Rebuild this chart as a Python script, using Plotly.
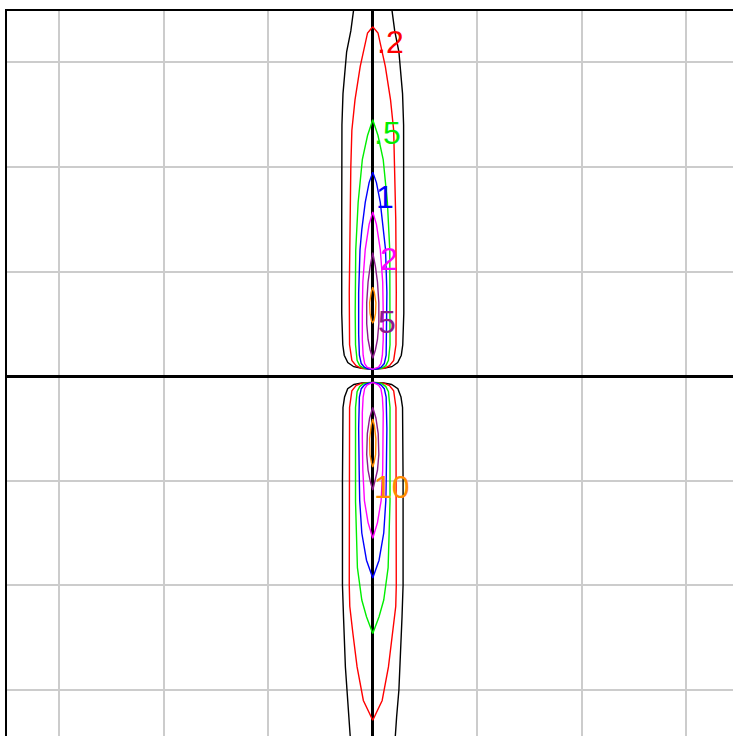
import plotly.graph_objects as go

# contour levels, colours and label text
levels = [0.1, 0.2, 0.5, 1, 2, 5, 10]
colors = ["#000000", "#ff0000", "#00ee00", "#0000ff", "#ff00ff", "#8b1a8b", "#ff8c00"]
label_text = [".2", ".5", "1", "2", "5", "10"]
label_color = ["#ff0000", "#00ee00", "#0000ff", "#ff00ff", "#8b1a8b", "#ff8c00"]
label_x = [0.17, 0.14, 0.115, 0.155, 0.14, 0.18]
label_y = [3.19, 2.32, 1.71, 1.12, 0.52, -1.06]

# contour profiles: (y, half-width) pairs, upper and lower lobes
black_upper = [(3.6, 0.17), (3.47, 0.19), (3.3, 0.21), (3.1, 0.25), (2.9, 0.27), (2.7, 0.285),
               (2.4, 0.295), (1.5, 0.297), (0.6, 0.297), (0.3, 0.287), (0.2, 0.273),
               (0.13, 0.239), (0.09, 0.182), (0.075, 0.105), (0.07, 0.0)]
black_lower = [(-0.06, 0.0), (-0.065, 0.105), (-0.08, 0.18), (-0.12, 0.24), (-0.2, 0.27),
               (-0.3, 0.285), (-1.0, 0.29), (-2.0, 0.29), (-2.3, 0.28), (-2.78, 0.262),
               (-3.0, 0.25), (-3.26, 0.228), (-3.45, 0.215), (-3.6, 0.205)]
red_upper = [(3.34, 0.0), (3.28, 0.05), (2.96, 0.12), (2.64, 0.17), (2.35, 0.2), (2.0, 0.21),
             (1.5, 0.22), (0.8, 0.225), (0.3, 0.222), (0.15, 0.2), (0.1, 0.16),
             (0.075, 0.11), (0.065, 0.0)]
red_lower = [(-0.06, 0.0), (-0.07, 0.11), (-0.09, 0.16), (-0.14, 0.2), (-0.3, 0.222),
             (-1.0, 0.225), (-2.0, 0.225), (-2.2, 0.22), (-2.46, 0.19), (-2.78, 0.15),
             (-3.1, 0.09), (-3.29, 0.0)]
green_upper = [(2.45, 0.0), (2.3, 0.05), (2.07, 0.1), (1.66, 0.14), (1.2, 0.163), (0.6, 0.168),
               (0.3, 0.165), (0.15, 0.15), (0.1, 0.125), (0.075, 0.085), (0.065, 0.0)]
green_lower = [(-0.06, 0.0), (-0.07, 0.085), (-0.1, 0.125), (-0.15, 0.15), (-0.3, 0.165),
               (-1.2, 0.165), (-1.83, 0.147), (-2.14, 0.105), (-2.3, 0.06), (-2.46, 0.0)]
blue_upper = [(1.95, 0.0), (1.85, 0.035), (1.66, 0.072), (1.4, 0.105), (1.21, 0.122),
              (0.8, 0.135), (0.4, 0.135), (0.2, 0.128), (0.12, 0.11), (0.085, 0.08),
              (0.07, 0.05), (0.065, 0.0)]
blue_lower = [(-0.06, 0.0), (-0.07, 0.05), (-0.085, 0.08), (-0.12, 0.11), (-0.2, 0.128),
              (-0.5, 0.135), (-0.9, 0.13), (-1.19, 0.125), (-1.5, 0.105), (-1.76, 0.06),
              (-1.93, 0.0)]
magenta_upper = [(1.57, 0.0), (1.45, 0.035), (1.21, 0.072), (0.9, 0.095), (0.6, 0.1),
                 (0.35, 0.1), (0.2, 0.092), (0.12, 0.078), (0.085, 0.055), (0.065, 0.0)]
magenta_lower = [(-0.06, 0.0), (-0.085, 0.055), (-0.12, 0.078), (-0.2, 0.092), (-0.35, 0.1),
                 (-0.6, 0.1), (-0.9, 0.095), (-1.19, 0.08), (-1.4, 0.045), (-1.55, 0.0)]
purple_upper = [(1.18, 0.0), (1.05, 0.025), (0.9, 0.045), (0.7, 0.058), (0.5, 0.058),
                (0.35, 0.045), (0.25, 0.025), (0.17, 0.0)]
purple_lower = [(-0.3, 0.0), (-0.4, 0.03), (-0.55, 0.052), (-0.75, 0.058), (-0.9, 0.045),
                (-1.0, 0.025), (-1.09, 0.0)]
orange_upper = [(0.85, 0.0), (0.8, 0.015), (0.7, 0.03), (0.6, 0.026), (0.53, 0.012), (0.51, 0.0)]
orange_lower = [(-0.41, 0.0), (-0.47, 0.015), (-0.6, 0.03), (-0.75, 0.027), (-0.83, 0.012),
                (-0.87, 0.0)]

profiles = [
    (black_upper, black_lower),
    (red_upper, red_lower),
    (green_upper, green_lower),
    (blue_upper, blue_lower),
    (magenta_upper, magenta_lower),
    (purple_upper, purple_lower),
    (orange_upper, orange_lower),
]

fig = go.Figure()
for lev, col, (up, lo) in zip(levels, colors, profiles):
    for prof in (up, lo):
        xs = [hw for _, hw in prof] + [-hw for _, hw in reversed(prof)]
        ys = [y for y, _ in prof] + [y for y, _ in reversed(prof)]
        fig.add_trace(go.Scatter(x=xs, y=ys, mode="lines", line=dict(color=col, width=1.4),
                                 showlegend=False, hoverinfo="skip", name=str(lev)))

for t, c, x, y in zip(label_text, label_color, label_x, label_y):
    fig.add_annotation(x=x, y=y, text=t, showarrow=False, xanchor="center", yanchor="middle",
                       font=dict(color=c, size=32, family="Liberation Sans, Arial, sans-serif"))

fig.update_layout(
    width=733, height=736,
    margin=dict(l=7, r=0, t=11, b=0),
    paper_bgcolor="white", plot_bgcolor="white",
    showlegend=False,
    xaxis=dict(range=[-3.5, 3.447], dtick=1, tick0=0, showgrid=True, gridcolor="#cccccc",
               gridwidth=1.6, zeroline=True, zerolinecolor="black", zerolinewidth=3,
               showticklabels=False, ticks="", showline=True, linecolor="black",
               linewidth=2, side="top", mirror=False, fixedrange=True),
    yaxis=dict(range=[-3.44, 3.49], dtick=1, tick0=0, showgrid=True, gridcolor="#cccccc",
               gridwidth=1.6, zeroline=True, zerolinecolor="black", zerolinewidth=3,
               showticklabels=False, ticks="", showline=True, linecolor="black",
               linewidth=2, side="left", mirror=False, fixedrange=True),
)

fig.write_html("out.html", config={"displayModeBar": False},
               post_script="document.body.style.margin='0px';document.body.style.overflow='hidden';")
